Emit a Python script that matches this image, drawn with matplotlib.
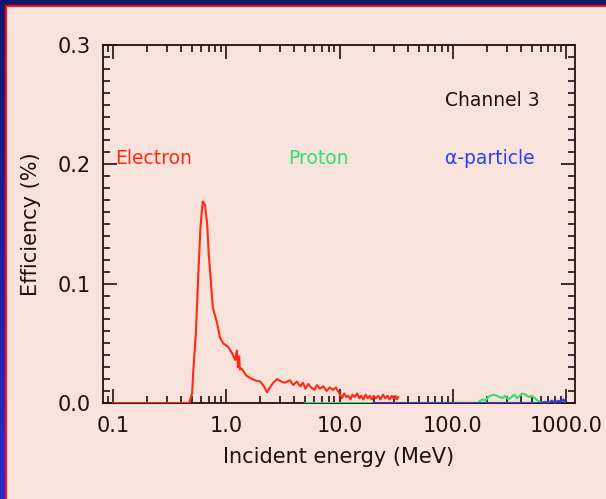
import matplotlib
matplotlib.use('Agg')
import matplotlib.pyplot as plt
import numpy as np
from matplotlib.ticker import MultipleLocator, FixedLocator, FixedFormatter, LogLocator
from matplotlib.patches import Rectangle

# electron efficiency
electron_E = [0.1, 0.2, 0.3, 0.4, 0.47, 0.50, 0.51, 0.54, 0.56, 0.59,
              0.61, 0.62, 0.65, 0.68, 0.70, 0.73, 0.76, 0.83, 0.88, 0.94,
              1.04, 1.12, 1.20, 1.24, 1.27, 1.30, 1.32, 1.36, 1.41, 1.5,
              1.62, 1.8, 1.99, 2.15, 2.29, 2.43, 2.6, 2.81, 3.05, 3.30,
              3.65, 3.9, 4.2, 4.5, 4.76, 5.0, 5.3, 5.6, 6.0, 6.33,
              6.7, 7.2, 7.7, 8.2, 8.76, 9.3, 10.1, 10.5, 11, 11.5, 12, 12.5, 13, 13.6,
              14.3, 15, 15.5, 16.2, 17, 17.8, 18.5, 19.2, 20, 21, 22, 23, 24.2, 25.3,
              26.5, 27.7, 29, 30, 31, 32, 32.9]
electron_eff = [0, 0, 0, 0, 0, 0.008, 0.025, 0.059, 0.097, 0.145,
                0.162, 0.169, 0.166, 0.149, 0.125, 0.103, 0.080, 0.067, 0.055, 0.050,
                0.047, 0.042, 0.036, 0.044, 0.030, 0.039, 0.028, 0.029, 0.027, 0.023,
                0.021, 0.019, 0.018, 0.014, 0.009, 0.013, 0.017, 0.020, 0.018, 0.017,
                0.019, 0.015, 0.018, 0.014, 0.017, 0.012, 0.016, 0.013, 0.011, 0.015,
                0.012, 0.014, 0.010, 0.013, 0.011, 0.013, 0.007, 0.004, 0.008, 0.005, 0.006, 0.003, 0.007, 0.005,
                0.008, 0.004, 0.006, 0.003, 0.007, 0.004, 0.006, 0.003, 0.006, 0.004, 0.006, 0.003, 0.007, 0.004,
                0.006, 0.003, 0.006, 0.004, 0.006, 0.003, 0.005]

proton_E = [5, 20, 100, 167, 175, 185, 195, 205, 215, 230, 245, 260, 275, 290,
            310, 330, 350, 370, 390, 410, 440, 470, 500, 530, 560, 590, 600]
proton_eff = [0, 0, 0, 0, 0.002, 0.003, 0.002, 0.005, 0.006, 0.007, 0.006, 0.005, 0.004, 0.006,
              0.003, 0.005, 0.007, 0.004, 0.006, 0.008, 0.007, 0.005, 0.006, 0.004, 0.002, 0.001, 0]

alpha_E = [20, 100, 600, 650, 700, 750, 800, 850, 900, 950, 980]
alpha_eff = [0, 0, 0, 0.001, 0, 0.002, 0, 0.002, 0.001, 0.003, 0]

xticks = [0.1, 1, 10, 100, 1000]
xticklabels = ['0.1', '1.0', '10.0', '100.0', '1000.0']
yticks = [0.0, 0.1, 0.2, 0.3]
yticklabels = ['0.0', '0.1', '0.2', '0.3']

W, H = 606, 499
fig = plt.figure(figsize=(W / 100, H / 100), dpi=100)

# dark blue gradient frame, pink panel with a red edge on left and top
bg = fig.add_axes([0, 0, 1, 1], zorder=-1)
grad = np.linspace(0, 1, 256).reshape(-1, 1)
top_c = np.array([20, 22, 110]) / 255
bot_c = np.array([42, 42, 210]) / 255
img = top_c + grad[..., None] * (bot_c - top_c)
bg.imshow(img, aspect='auto', extent=[0, 1, 0, 1], zorder=0)
bg.add_patch(Rectangle((7 / W, 0), 1, 1 - 7 / H, facecolor='#f8e2dc', edgecolor='none', zorder=1))
bg.plot([6 / W, 6 / W], [0, 1 - 6 / H], color='#ff1010', lw=1.5, zorder=2)
bg.plot([6 / W, 1], [1 - 6 / H, 1 - 6 / H], color='#ff1010', lw=1.5, zorder=2)
bg.set_xlim(0, 1)
bg.set_ylim(0, 1)
bg.set_axis_off()

ax = fig.add_axes([103 / W, (H - 403) / H, (575 - 103) / W, (403 - 45) / H])
ax.set_facecolor('none')

ax.plot(electron_E, electron_eff, color='#ff2a10', lw=1.5, zorder=3)
ax.plot(proton_E, proton_eff, color='#30e070', lw=1.5, zorder=3)
ax.plot(alpha_E, alpha_eff, color='#3040f0', lw=1.5, zorder=3)

ax.set_xscale('log')
ax.set_xlim(0.0816, 1200)
ax.set_ylim(0, 0.3)

ax.xaxis.set_major_locator(FixedLocator(xticks))
ax.xaxis.set_major_formatter(FixedFormatter(xticklabels))
ax.xaxis.set_minor_locator(LogLocator(base=10, subs=np.arange(2, 10)))
ax.yaxis.set_major_locator(FixedLocator(yticks))
ax.yaxis.set_major_formatter(FixedFormatter(yticklabels))
ax.yaxis.set_minor_locator(MultipleLocator(0.01))

for s in ax.spines.values():
    s.set_color('#201010')
    s.set_linewidth(1.3)
ax.tick_params(which='both', direction='in', top=True, right=True, colors='#201010', width=1.2)
ax.tick_params(which='major', length=10, labelsize=15, pad=9)
ax.tick_params(which='minor', length=5)

ax.set_xlabel('Incident energy (MeV)', fontsize=15, color='#201010', labelpad=8)
ax.set_ylabel('Efficiency (%)', fontsize=15, color='#201010', labelpad=12)

ax.text(0.725, 0.846, 'Channel 3', transform=ax.transAxes, fontsize=13.5,
        color='#201010', va='center', ha='left')
ax.text(0.025, 0.684, 'Electron', transform=ax.transAxes, fontsize=13.5,
        color='#ff2a10', va='center', ha='left')
ax.text(0.392, 0.684, 'Proton', transform=ax.transAxes, fontsize=13.5,
        color='#30e070', va='center', ha='left')
ax.text(0.725, 0.684, 'α-particle', transform=ax.transAxes, fontsize=13.5,
        color='#3040f0', va='center', ha='left')

fig.savefig('out.png', dpi=100)
